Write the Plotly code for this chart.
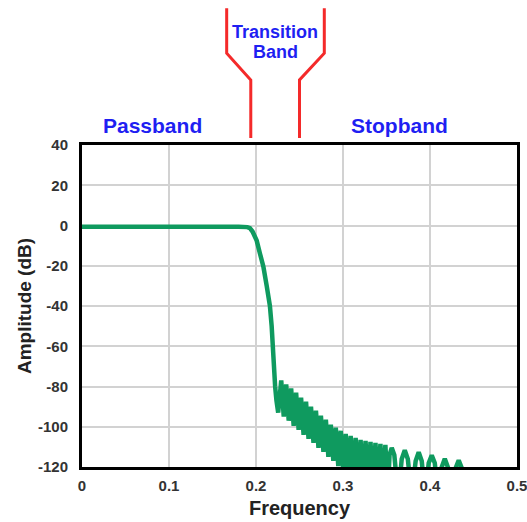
import plotly.graph_objects as go

# ---- data ----
freq = [
    0.0, 0.05, 0.10, 0.15, 0.18, 0.19,
    0.193, 0.196, 0.199, 0.2008, 0.2046, 0.2085, 0.2123, 0.216, 0.218, 0.219, 0.220, 0.221, 0.222, 0.2235, 0.2255,
    0.2290, 0.2319, 0.2347, 0.2376, 0.2404, 0.2433, 0.2461, 0.2490, 0.2518, 0.2547,
    0.2575, 0.2604, 0.2632, 0.2661, 0.2689, 0.2718, 0.2746, 0.2775, 0.2803, 0.2832,
    0.2860, 0.2889, 0.2917, 0.2946, 0.2974, 0.3003, 0.3031, 0.3060, 0.3088, 0.3117,
    0.3145, 0.3174, 0.3202, 0.3231, 0.3259, 0.3288, 0.3316, 0.3345, 0.3373, 0.3402,
    0.3430, 0.3459, 0.3487, 0.3516,
    0.3535, 0.3560, 0.3590, 0.3635,
    0.3675, 0.3710, 0.3745, 0.3790,
    0.3835, 0.3870, 0.3905, 0.3945,
    0.3985, 0.4020, 0.4055, 0.4095,
    0.4135, 0.4170, 0.4205, 0.4250,
    0.4295, 0.4330, 0.4365, 0.4405,
]
amp_db = [
    -0.6, -0.5, -0.5, -0.5, -0.6, -0.8,
    -1.3, -3.0, -5.5, -7.5, -14, -20.5, -30, -40, -50, -60, -67, -75, -80, -87, -93,
    -77, -95, -79, -97, -81, -99.5, -83, -101.5, -85.5, -104,
    -87.5, -106, -90, -108, -92, -110.5, -94.5, -112.5, -96.5, -115,
    -99, -117, -100.5, -119.5, -102, -122, -103.5, -124, -104.5, -126,
    -105.5, -127, -106.5, -128, -107, -129, -107.5, -130, -108, -130,
    -108.5, -131, -109, -132,
    -114, -110.5, -114, -135,
    -116, -111.7, -116, -135,
    -117, -112.6, -117, -135,
    -118, -114.2, -118, -135,
    -120, -115.9, -120, -135,
    -120.5, -116.7, -120.5, -135,
]

x_tickvals = [0, 0.1, 0.2, 0.3, 0.4, 0.5]
x_ticktext = ["0", "0.1", "0.2", "0.3", "0.4", "0.5"]
y_tickvals = [40, 20, 0, -20, -40, -60, -80, -100, -120]
y_ticktext = ["40", "20", "0", "-20", "-40", "-60", "-80", "-100", "-120"]

band_labels = ["Passband", "Stopband"]
band_label_x = [0.0805, 0.3655]
transition_label = ["Transition", "Band"]
transition_label_x = 0.222
transition_edges = [0.194, 0.25]          # frequency where the red markers meet the plot
transition_top_x = [0.1663, 0.2785]       # frequency of upper vertical part

FONT = "Arial, 'Liberation Sans', sans-serif"
GREEN = "#0f9a5f"
BLUE = "#1f1ff2"
RED = "#f42a2a"

fig = go.Figure()
fig.add_trace(go.Scatter(
    x=freq, y=amp_db, mode="lines",
    line=dict(color=GREEN, width=4.5),
    showlegend=False, hoverinfo="skip",
))

# red transition-band markers (paper y)
y_lo, y_bend, y_kink, y_top = 1.022, 1.202, 1.285, 1.425
for edge, top in zip(transition_edges, transition_top_x):
    fig.add_shape(
        type="path", xref="x", yref="paper",
        path=f"M {edge},{y_lo} L {edge},{y_bend} L {top},{y_kink} L {top},{y_top}",
        line=dict(color=RED, width=3),
    )

for txt, xv in zip(band_labels, band_label_x):
    fig.add_annotation(x=xv, y=1.062, xref="x", yref="paper", text=txt,
                       showarrow=False, xanchor="center", yanchor="middle",
                       font=dict(family=FONT, size=21, color=BLUE, weight="bold"))
for txt, yv in zip(transition_label, [1.351, 1.289]):
    fig.add_annotation(x=transition_label_x, y=yv, xref="x", yref="paper", text=txt,
                       showarrow=False, xanchor="center", yanchor="middle",
                       font=dict(family=FONT, size=18, color=BLUE, weight="bold"))

axis_common = dict(
    showgrid=True, gridcolor="#d2d2d2", gridwidth=2,
    showline=True, linecolor="black", linewidth=3, mirror=True,
    zeroline=False, ticks="outside", tickcolor="rgba(0,0,0,0)",
    ticklabeloverflow="allow",
    tickfont=dict(family=FONT, size=15, color="#333333", weight="bold"),
)
fig.update_xaxes(range=[0, 0.5], tickvals=x_tickvals, ticktext=x_ticktext, ticklen=3,
                 title=dict(text="Frequency", standoff=8,
                            font=dict(family=FONT, size=20, color="#222222", weight="bold")),
                 **axis_common)
fig.update_yaxes(range=[-120, 40], tickvals=y_tickvals, ticktext=y_ticktext, ticklen=8,
                 title=dict(text="Amplitude (dB)", standoff=2,
                            font=dict(family=FONT, size=19, color="#222222", weight="bold")),
                 **axis_common)

fig.update_layout(
    width=527, height=522,
    margin=dict(l=82, r=10, t=145, b=55, autoexpand=False),
    paper_bgcolor="white", plot_bgcolor="white",
)

fig.write_html("out.html")
